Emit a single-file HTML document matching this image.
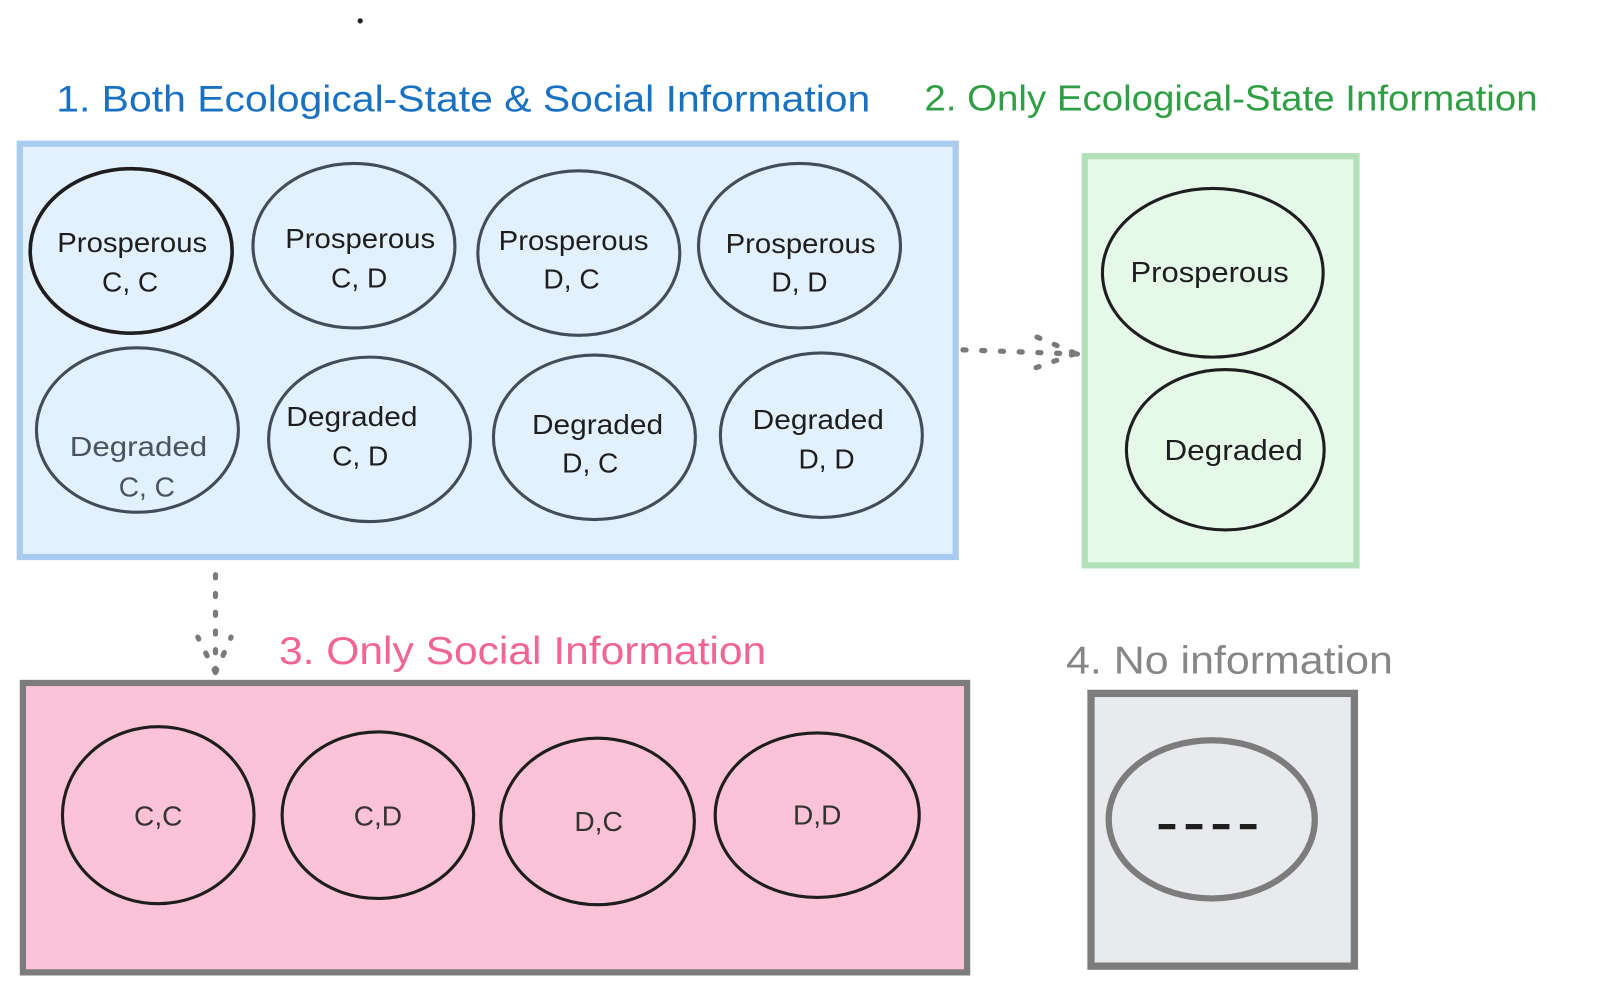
<!DOCTYPE html>
<html><head><meta charset="utf-8"><style>
html,body{margin:0;padding:0;background:#fff;}
svg{display:block;}
text{font-family:"Liberation Sans",sans-serif;}
</style></head><body>
<svg width="1624" height="987" viewBox="0 0 1560 948" xmlns="http://www.w3.org/2000/svg">
<circle cx="346" cy="20" r="2.5" fill="#222"/>
<text x="54" y="107" font-size="36" fill="#1971c2" textLength="782" lengthAdjust="spacingAndGlyphs">1. Both Ecological-State &amp; Social Information</text>
<text x="888" y="106" font-size="35" fill="#2f9e44" textLength="589" lengthAdjust="spacingAndGlyphs">2. Only Ecological-State Information</text>
<text x="268" y="638" font-size="37" fill="#f06595" textLength="468" lengthAdjust="spacingAndGlyphs">3. Only Social Information</text>
<text x="1024" y="647" font-size="37" fill="#868686" textLength="314" lengthAdjust="spacingAndGlyphs">4. No information</text>

<rect x="19" y="138" width="899" height="397" fill="#e3f1fe" stroke="#a8cbef" stroke-width="6"/>
<g fill="none" stroke="#424d5b" stroke-width="3">
<ellipse cx="126" cy="241" rx="97" ry="79" stroke="#1e1e1e" stroke-width="3.5"/>
<ellipse cx="340" cy="236" rx="97" ry="79"/>
<ellipse cx="556" cy="243" rx="97" ry="79"/>
<ellipse cx="768" cy="236" rx="97" ry="79"/>
<ellipse cx="132" cy="413" rx="97" ry="79"/>
<ellipse cx="355" cy="422" rx="97" ry="79"/>
<ellipse cx="571" cy="420" rx="97" ry="79"/>
<ellipse cx="789" cy="418" rx="97" ry="79"/>
</g>
<g font-size="27" fill="#1e1e1e" text-anchor="middle">
<text x="127" y="242" textLength="144" lengthAdjust="spacingAndGlyphs">Prosperous</text><text x="125" y="280">C, C</text>
<text x="346" y="238" textLength="144" lengthAdjust="spacingAndGlyphs">Prosperous</text><text x="345" y="276">C, D</text>
<text x="551" y="240" textLength="144" lengthAdjust="spacingAndGlyphs">Prosperous</text><text x="549" y="277">D, C</text>
<text x="769" y="243" textLength="144" lengthAdjust="spacingAndGlyphs">Prosperous</text><text x="768" y="280">D, D</text>
<text x="133" y="438" fill="#495462" textLength="132" lengthAdjust="spacingAndGlyphs">Degraded</text><text x="141" y="477" fill="#495462">C, C</text>
<text x="338" y="409" textLength="126" lengthAdjust="spacingAndGlyphs">Degraded</text><text x="346" y="447">C, D</text>
<text x="574" y="417" textLength="126" lengthAdjust="spacingAndGlyphs">Degraded</text><text x="567" y="454">D, C</text>
<text x="786" y="412" textLength="126" lengthAdjust="spacingAndGlyphs">Degraded</text><text x="794" y="450">D, D</text>
</g>

<rect x="1042" y="150" width="261" height="393" fill="#e6f8e8" stroke="#b2e0b8" stroke-width="6"/>
<g fill="none" stroke="#1e1e1e" stroke-width="3">
<ellipse cx="1165" cy="262" rx="106" ry="81"/>
<ellipse cx="1177" cy="432" rx="95" ry="77"/>
</g>
<g font-size="28" fill="#1e1e1e" text-anchor="middle">
<text x="1162" y="271" textLength="152" lengthAdjust="spacingAndGlyphs">Prosperous</text>
<text x="1185" y="442" textLength="133" lengthAdjust="spacingAndGlyphs">Degraded</text>
</g>

<g stroke="#7a7a7a" stroke-width="5" stroke-linecap="round" stroke-dasharray="3 15" fill="none">
<line x1="925" y1="336" x2="1035" y2="340"/>
<path d="M1032 339 L992 322 M1032 340 L990 355"/>
<line x1="207" y1="552" x2="207" y2="648"/>
<path d="M207 646 L190 612 M207 646 L222 612"/>
</g>

<rect x="22" y="656" width="907" height="278" fill="#fbc2d8" stroke="#7c7c7c" stroke-width="6"/>
<g fill="none" stroke="#1e1e1e" stroke-width="3">
<ellipse cx="152" cy="783" rx="92" ry="85"/>
<ellipse cx="363" cy="783" rx="92" ry="80"/>
<ellipse cx="574" cy="789" rx="93" ry="80"/>
<ellipse cx="785" cy="783" rx="98" ry="79"/>
</g>
<g font-size="27" fill="#333" text-anchor="middle">
<text x="152" y="793">C,C</text><text x="363" y="793">C,D</text>
<text x="575" y="798">D,C</text><text x="785" y="792">D,D</text>
</g>

<rect x="1048" y="666" width="253" height="262" fill="#e8eaed" stroke="#7c7c7c" stroke-width="7"/>
<ellipse cx="1164" cy="787" rx="99" ry="76" fill="none" stroke="#7c7c7c" stroke-width="6"/>
<line x1="1113" y1="794" x2="1215" y2="794" stroke="#1e1e1e" stroke-width="5" stroke-dasharray="16 10"/>
</svg>
</body></html>
